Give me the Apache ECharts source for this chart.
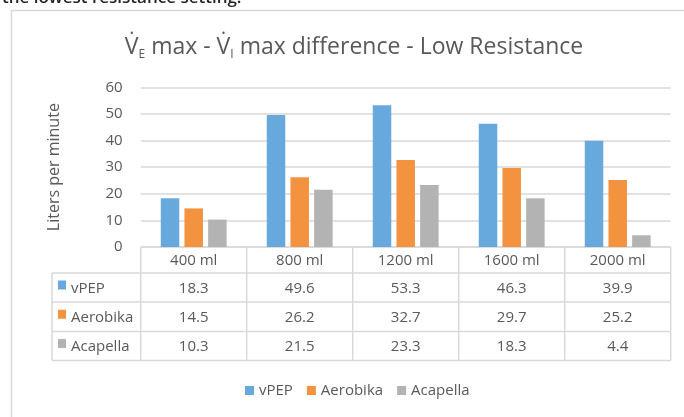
<!DOCTYPE html>
<html><head><meta charset="utf-8">
<script src="https://cdn.jsdelivr.net/npm/echarts@6/dist/echarts.min.js"></script>
<style>html,body{margin:0;padding:0;background:#fff}#c{width:684px;height:417px}</style>
</head><body><div id="c"></div>
<script>
const categories = ['400 ml', '800 ml', '1200 ml', '1600 ml', '2000 ml'];
const seriesNames = ['vPEP', 'Aerobika', 'Acapella'];
const vPEP = [18.3, 49.6, 53.3, 46.3, 39.9];
const aerobika = [14.5, 26.2, 32.7, 29.7, 25.2];
const acapella = [10.3, 21.5, 23.3, 18.3, 4.4];
const yMin = 0, yMax = 60, yStep = 10;
const yAxisName = 'Liters per minute';
const colors = ['#68a9dd', '#f3923f', '#b3b3b3'];

const values = [vPEP, aerobika, acapella];
const FF = 'Open Sans';
const txt = '#595959';
const lineC = '#d9d9d9';

const gL = 140.7, gR = 670.7, gT = 87.3, gB = 247;
const colW = (gR - gL) / categories.length;
const rowY = [gB, 273, 302, 331.5, 360.5];
const tblL = 52;

const chart = echarts.init(document.getElementById('c'), null, {renderer: 'canvas'});

const g = [];
// outer frame
g.push({type: 'rect', shape: {x: 11.5, y: 10.5, width: 800, height: 600}, style: {fill: null, stroke: lineC, lineWidth: 1.5}, silent: true});
// cut document text at the very top
g.push({type: 'text', x: 2, y: 7, style: {text: 'the lowest resistance setting.', fontFamily: FF, fontSize: 17, fontWeight: 600, fill: '#222', align: 'left', verticalAlign: 'bottom'}});
// title
g.push({type: 'text', x: 354, y: 47, style: {
  text: '{v|V\u0307}{s|E}{t| max - }{v|V\u0307}{s|I}{t| max difference - Low Resistance}',
  align: 'center', verticalAlign: 'middle',
  rich: {
    v: {fontFamily: FF, fontSize: 23, fill: txt, lineHeight: 30, verticalAlign: 'middle'},
    t: {fontFamily: FF, fontSize: 23, fill: txt, lineHeight: 30, verticalAlign: 'middle'},
    s: {fontFamily: FF, fontSize: 12, fill: txt, lineHeight: 30, verticalAlign: 'bottom', padding: [0, 0, 1, 0]}
  }
}});
// table lines
const hl = (x1, x2, y) => g.push({type: 'line', shape: {x1, y1: y, x2, y2: y}, style: {stroke: lineC, lineWidth: 1.5}, silent: true});
const vl = (x, y1, y2) => g.push({type: 'line', shape: {x1: x, y1, x2: x, y2}, style: {stroke: lineC, lineWidth: 1.5}, silent: true});
hl(gL, gR, rowY[0]);
for (let r = 1; r < rowY.length; r++) hl(tblL, gR, rowY[r]);
for (let i = 0; i <= categories.length; i++) vl(gL + i * colW, rowY[0], rowY[rowY.length - 1]);
vl(tblL, rowY[1], rowY[rowY.length - 1]);
const cellStyle = (text, align) => ({text, align, verticalAlign: 'middle', fontFamily: FF, fontSize: 15, fill: txt});
// header texts
categories.forEach((c, i) => {
  g.push({type: 'text', x: gL + (i + 0.5) * colW, y: (rowY[0] + rowY[1]) / 2 + 1, style: cellStyle(c, 'center')});
});
// rows
seriesNames.forEach((n, r) => {
  const yc = (rowY[r + 1] + rowY[r + 2]) / 2 + 1;
  g.push({type: 'rect', shape: {x: 58, y: yc - 8, width: 8, height: 9}, style: {fill: colors[r]}});
  g.push({type: 'text', x: 71, y: yc, style: cellStyle(n, 'left')});
  values[r].forEach((v, i) => {
    g.push({type: 'text', x: gL + (i + 0.5) * colW, y: yc, style: cellStyle(v.toFixed(1), 'center')});
  });
});

chart.setOption({
  animation: false,
  backgroundColor: '#fff',
  color: colors,
  grid: {left: gL, right: 684 - gR, top: gT, bottom: 417 - gB, containLabel: false},
  legend: {
    data: seriesNames, left: 240, top: 378, icon: 'rect', itemWidth: 9, itemHeight: 9, itemGap: 14,
    textStyle: {fontFamily: FF, fontSize: 15, color: txt}
  },
  xAxis: {
    type: 'category', data: categories,
    axisLine: {show: false}, axisTick: {show: false}, axisLabel: {show: false}
  },
  yAxis: {
    type: 'value', min: yMin, max: yMax, interval: yStep,
    name: yAxisName, nameLocation: 'middle', nameGap: 78, nameRotate: 90,
    nameTextStyle: {fontFamily: FF, fontSize: 16, color: txt},
    axisLine: {show: false}, axisTick: {show: false},
    axisLabel: {fontFamily: FF, fontSize: 15, color: txt, margin: 18},
    splitLine: {lineStyle: {color: lineC, width: 1.5}}
  },
  series: seriesNames.map((n, r) => ({
    name: n, type: 'bar', data: values[r], barWidth: 18.5, barGap: '28%',
    itemStyle: {color: colors[r]}
  })),
  graphic: g
});
</script></body></html>
